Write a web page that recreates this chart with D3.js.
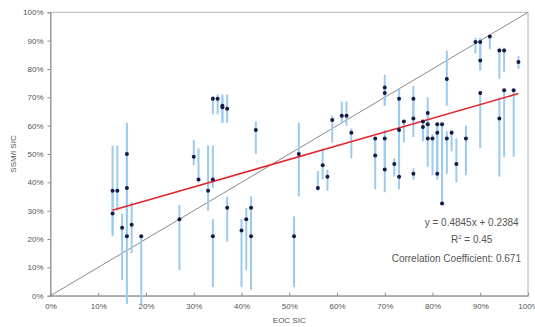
<!DOCTYPE html>
<html>
<head>
<meta charset="utf-8">
<script src="https://cdn.jsdelivr.net/npm/d3@7"></script>
<style>
  body { margin: 0; background: #fff; }
  svg { display: block; font-family: "Liberation Sans", Arial, sans-serif; }
</style>
</head>
<body>
<svg id="chart"></svg>
<script>
// EOC SIC (x), SSM/I SIC (y), error bar low / high, all in %
var eocSic = [13, 13, 14, 15, 16, 16, 16, 17, 19, 27, 30, 31, 33, 34, 34, 34, 35, 36, 36, 37, 37, 40, 41, 42, 42, 43,
  51, 52, 56, 57, 58, 59, 61, 62, 63, 68, 68, 70, 70, 70, 70, 72, 73, 73, 73, 74, 76, 76, 76, 78, 78, 79, 79, 79,
  80, 81, 81, 81, 82, 82, 83, 83, 84, 85, 87, 89, 90, 90, 90, 92, 94, 94, 95, 95, 97, 98];
var ssmiSic = [37, 29, 37, 24, 50, 38, 21, 25, 21, 27, 49, 41, 37, 69.5, 41, 21, 69.5, 67, 66.5, 66, 31, 23, 27, 31, 21, 58.5,
  21, 50, 38, 46, 42, 62, 63.5, 63.5, 57.5, 55.5, 49.5, 73.5, 71.5, 55.5, 44.5, 46.5, 69.5, 58.5, 42, 61.5, 69.5, 62.5, 43, 61.5, 59.5, 64.5, 60.5, 55.5,
  55.5, 60.5, 57.5, 43, 60.5, 32.5, 76.5, 55.5, 57.5, 46.5, 55.5, 89.5, 89.5, 83, 71.5, 91.5, 86.5, 62.5, 86.5, 72.5, 72.5, 82.5];
var errLow = [21, 22, 30, 5.5, 38, 21, -3, 15, -3, 9, 46, 40, 30, 64, 38, 3, 64, 61, 61, 61, 19, 3, 9, 21, 2, 50,
  3, 35, 37, 41, 37, 54, 61, 60, 48.5, 49, 37.5, 67, 67, 44, 36.5, 42, 58, 45, 37.5, 54, 62, 56, 41, 55, 54.5, 60, 55, 45.5,
  42.5, 57, 43, 41, 32, 32, 67, 43, 51, 40, 42.5, 85.5, 79.5, 79.5, 52, 87, 76.5, 42, 79, 49, 49, 80];
var errHigh = [53, 37, 53, 29, 61, 50, 38, 33, 21, 32, 55, 52, 53, 70.5, 53, 27, 71, 71, 70, 71, 35, 27, 31, 35, 31, 61.5,
  28, 61, 44, 52, 44.5, 63.5, 68.5, 68.5, 59, 56, 55.5, 78, 73.5, 58.5, 55.5, 48.5, 73, 69.5, 45, 62, 74, 69.5, 45, 62, 61.5, 70, 64.5, 60.5,
  57, 60.5, 60.5, 57.5, 60.5, 60.5, 86.5, 58, 58.5, 55.5, 60, 91, 91, 89.5, 72, 92, 87.5, 70, 87.5, 72.5, 72.5, 84.5];

var slope = 0.4845, intercept = 0.2384;
var noteLines = ["y = 0.4845x + 0.2384", "R² = 0.45", "Correlation Coefficient: 0.671"];
var tickValues = [0, 10, 20, 30, 40, 50, 60, 70, 80, 90, 100];

var width = 535, height = 327;
var margin = { top: 12.3, right: 7, bottom: 31.3, left: 50.5 };

var svg = d3.select("#chart")
  .attr("width", width)
  .attr("height", height);

var x = d3.scaleLinear().domain([0, 100]).range([margin.left, width - margin.right]);
var y = d3.scaleLinear().domain([0, 100]).range([height - margin.bottom, margin.top]);

// frame
svg.append("rect")
  .attr("x", x(0))
  .attr("y", y(100))
  .attr("width", x(100) - x(0))
  .attr("height", y(0) - y(100))
  .attr("fill", "none")
  .attr("stroke", "#b4b4b4")
  .attr("stroke-width", 1);

// axes
var fmt = function (d) { return d + "%"; };
var xAxis = svg.append("g")
  .attr("transform", `translate(0, ${y(0)})`)
  .call(d3.axisBottom(x).tickValues(tickValues).tickFormat(fmt).tickSizeInner(-3).tickSizeOuter(0).tickPadding(8));
var yAxis = svg.append("g")
  .attr("transform", `translate(${x(0)}, 0)`)
  .call(d3.axisLeft(y).tickValues(tickValues).tickFormat(fmt).tickSize(3).tickPadding(4));

[xAxis, yAxis].forEach(function (g) {
  g.select(".domain").attr("stroke", "#8c8c8c");
  g.selectAll(".tick line").attr("stroke", "#8c8c8c");
  g.selectAll(".tick text")
    .attr("fill", "#555")
    .style("font-size", "8px");
});

// axis titles
svg.append("text")
  .attr("x", (x(0) + x(100)) / 2)
  .attr("y", 323)
  .attr("text-anchor", "middle")
  .attr("fill", "#555")
  .style("font-size", "8px")
  .text("EOC SIC");

svg.append("text")
  .attr("transform", `translate(16, ${(y(0) + y(100)) / 2}) rotate(-90)`)
  .attr("text-anchor", "middle")
  .attr("fill", "#555")
  .style("font-size", "8px")
  .text("SSM/I SIC");

// 1:1 line
svg.append("line")
  .attr("x1", x(0)).attr("y1", y(0))
  .attr("x2", x(100)).attr("y2", y(100))
  .attr("stroke", "#8a8a8a")
  .attr("stroke-width", 1);

// error bars
svg.append("g")
  .selectAll("line")
  .data(eocSic)
  .join("line")
  .attr("x1", function (d) { return x(d); })
  .attr("x2", function (d) { return x(d); })
  .attr("y1", function (d, i) { return y(errLow[i]); })
  .attr("y2", function (d, i) { return y(errHigh[i]); })
  .attr("stroke", "#9ccbee")
  .attr("stroke-width", 2);

// regression line
var xMin = d3.min(eocSic), xMax = d3.max(eocSic);
svg.append("line")
  .attr("x1", x(xMin)).attr("y1", y((slope * xMin / 100 + intercept) * 100))
  .attr("x2", x(xMax)).attr("y2", y((slope * xMax / 100 + intercept) * 100))
  .attr("stroke", "#e3262a")
  .attr("stroke-width", 1.6);

// points
svg.append("g")
  .selectAll("circle")
  .data(eocSic)
  .join("circle")
  .attr("cx", function (d) { return x(d); })
  .attr("cy", function (d, i) { return y(ssmiSic[i]); })
  .attr("r", 2)
  .attr("fill", "#141a4a");

// regression note
svg.append("text")
  .attr("x", 471.7).attr("y", 226)
  .attr("text-anchor", "middle")
  .attr("fill", "#555")
  .style("font-size", "10px")
  .text(noteLines[0]);

var r2 = svg.append("text")
  .attr("x", 471.7).attr("y", 243)
  .attr("text-anchor", "middle")
  .attr("fill", "#555")
  .style("font-size", "10px");
r2.append("tspan").text("R");
r2.append("tspan").attr("dy", -4).style("font-size", "6px").text("2");
r2.append("tspan").attr("dy", 4).text(" = 0.45");

svg.append("text")
  .attr("x", 521).attr("y", 262)
  .attr("text-anchor", "end")
  .attr("fill", "#555")
  .style("font-size", "10px")
  .text(noteLines[2]);
</script>
</body>
</html>
